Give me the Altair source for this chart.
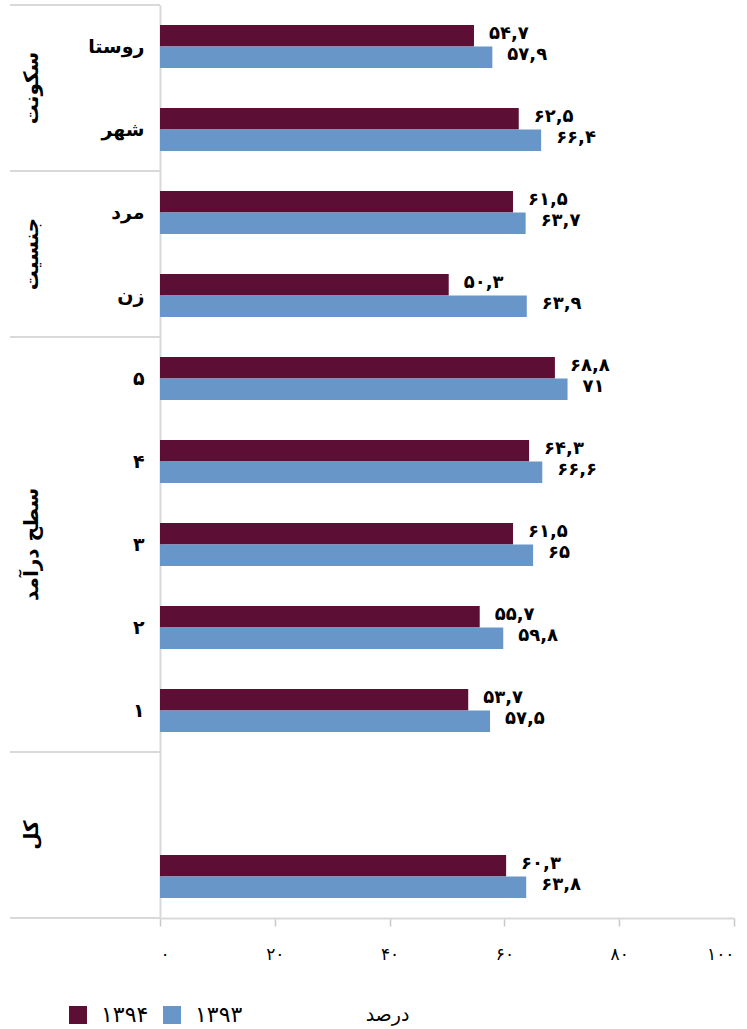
import altair as alt
import pandas as pd

# Categories top to bottom; the two blank ones form the "کل" group (empty slot + total row)
categories = ["روستا", "شهر", "مرد", "زن", "۵", "۴", "۳", "۲", "۱", " ", "  "]
series = ["۱۳۹۴", "۱۳۹۳"]
values_1394 = [54.7, 62.5, 61.5, 50.3, 68.8, 64.3, 61.5, 55.7, 53.7, None, 60.3]
values_1393 = [57.9, 66.4, 63.7, 63.9, 71, 66.6, 65, 59.8, 57.5, None, 63.8]
colors = ["#5D0E34", "#6996C8"]

group_names = ["سکونت", "جنسیت", "سطح درآمد", "کل"]
group_members = [
    ["روستا", "شهر"],
    ["مرد", "زن"],
    ["۵", "۴", "۳", "۲", "۱"],
    [" ", "  "],
]

tick_values = [0, 20, 40, 60, 80, 100]
tick_labels = ["۰", "۲۰", "۴۰", "۶۰", "۸۰", "۱۰۰"]
axis_title = "درصد"

FONT = "DejaVu Sans"
FA_DIGITS = str.maketrans("0123456789.", "۰۱۲۳۴۵۶۷۸۹,")


def fa_num(v):
    return f"{v:g}".translate(FA_DIGITS)


rows = []
for cat, a, b in zip(categories, values_1394, values_1393):
    for s, v in zip(series, [a, b]):
        if v is not None:
            rows.append({"cat": cat, "series": s, "value": v, "label": fa_num(v)})
bars_df = pd.DataFrame(rows)

# Separator lines: top edge of every group and bottom edge of the last one
sep_top = pd.DataFrame({"cat": [m[0] for m in group_members]})
sep_bottom = pd.DataFrame({"cat": [group_members[-1][-1]]})

# Group titles sit at the vertical middle of their group
even_rows, odd_rows = [], []
for name, members in zip(group_names, group_members):
    n = len(members)
    if n % 2 == 0:
        even_rows.append({"cat": members[n // 2], "group": name})
    else:
        odd_rows.append({"cat": members[n // 2], "group": name})
groups_even = pd.DataFrame(even_rows)
groups_odd = pd.DataFrame(odd_rows)

y_scale = alt.Scale(domain=categories, paddingInner=0, paddingOuter=0)
label_expr = "[" + ",".join(f"'{t}'" for t in tick_labels) + f"][datum.value / {tick_values[1]}]"

y_enc = alt.Y(
    "cat:N",
    scale=y_scale,
    sort=categories,
    axis=alt.Axis(
        title=None,
        ticks=False,
        domainColor="#d9d9d9",
        domainWidth=2,
        labelFontSize=19,
        labelFontWeight="bold",
        labelColor="#000000",
        labelPadding=16,
        labelFont=FONT,
    ),
)

x_enc = alt.X(
    "value:Q",
    scale=alt.Scale(domain=[0, 100], nice=False),
    axis=alt.Axis(
        values=tick_values,
        labelExpr=label_expr,
        grid=False,
        domainColor="#d9d9d9",
        domainWidth=2,
        tickColor="#c8c8c8",
        tickWidth=1.5,
        tickSize=8,
        labelFontSize=17,
        labelColor="#000000",
        labelPadding=20,
        labelFont=FONT,
        title=axis_title,
        titleFont=FONT,
        titleFontSize=19,
        titleFontWeight="normal",
        titleColor="#000000",
        titleX=227,
        titleY=96,
        titleAlign="center",
        titleBaseline="middle",
    ),
)

y_off = alt.YOffset("series:N", sort=series, scale=alt.Scale(domain=series, paddingOuter=0.93))

color_enc = alt.Color(
    "series:N",
    sort=series,
    scale=alt.Scale(domain=series, range=colors),
    legend=alt.Legend(
        title=None,
        orient="none",
        direction="horizontal",
        legendX=-93,
        legendY=999,
        symbolType="square",
        symbolSize=324,
        symbolStrokeWidth=0,
        symbolOpacity=1,
        labelFontSize=22,
        labelFont=FONT,
        labelColor="#000000",
        labelOffset=12,
        columnPadding=12,
    ),
)

bars = alt.Chart(bars_df).mark_bar().encode(
    x=x_enc, y=y_enc, yOffset=y_off, color=color_enc
)

value_labels = alt.Chart(bars_df).mark_text(
    align="left", baseline="middle", dx=15, dy=-2,
    fontSize=18, fontWeight="bold", font=FONT, color="#000000",
).encode(
    x="value:Q",
    y=alt.Y("cat:N", sort=categories),
    yOffset=alt.YOffset("series:N", sort=series),
    text="label:N",
)

sep_lines_top = alt.Chart(sep_top).mark_rule(color="#d9d9d9", strokeWidth=2).encode(
    y=alt.Y("cat:N", bandPosition=0, sort=categories),
    x=alt.value(-150),
    x2=alt.value(0),
)
sep_lines_bottom = alt.Chart(sep_bottom).mark_rule(color="#d9d9d9", strokeWidth=2).encode(
    y=alt.Y("cat:N", bandPosition=1, sort=categories),
    x=alt.value(-150),
    x2=alt.value(0),
)

group_text_style = dict(
    angle=270, align="center", baseline="middle",
    fontSize=20, fontWeight="bold", font=FONT, color="#000000",
)
group_labels_even = alt.Chart(groups_even).mark_text(**group_text_style).encode(
    y=alt.Y("cat:N", bandPosition=0, sort=categories),
    x=alt.value(-128),
    text="group:N",
)
group_labels_odd = alt.Chart(groups_odd).mark_text(**group_text_style).encode(
    y=alt.Y("cat:N", bandPosition=0.5, sort=categories),
    x=alt.value(-128),
    text="group:N",
)

chart = (
    alt.layer(
        bars, value_labels, sep_lines_top, sep_lines_bottom,
        group_labels_even, group_labels_odd,
    )
    .properties(
        width=574,
        height=913,
        autosize=alt.AutoSizeParams(type="none"),
        padding={"left": 160, "top": 5, "right": 13, "bottom": 111},
    )
    .configure(font=FONT)
    .configure_view(strokeWidth=0)
)

chart.save("out.html", embed_options={"renderer": "svg", "actions": False})
